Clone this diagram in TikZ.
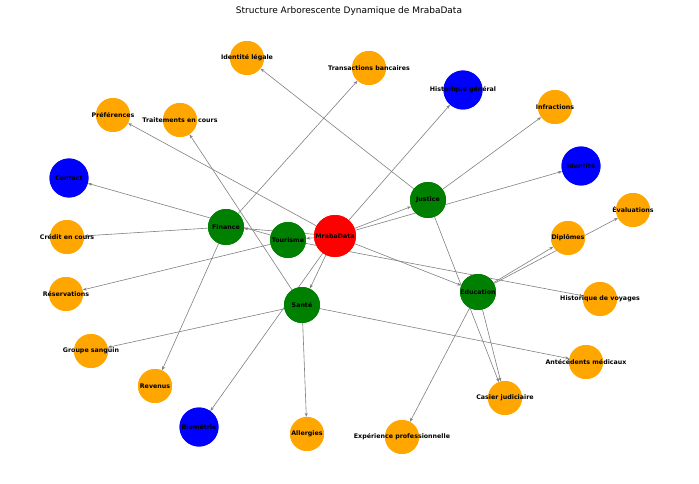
\documentclass[tikz,border=0pt]{standalone}
\usepackage{fontspec}
\setmainfont{DejaVu Sans}
\usetikzlibrary{arrows.meta}
\begin{document}
\begin{tikzpicture}[x=1pt,y=-1pt,
 n/.style={circle,inner sep=0pt,text=black,font=\fontsize{6.3}{7}\selectfont\bfseries},
 root/.style={n,fill=red,minimum size=42pt},
 cat/.style={n,fill=green!50!black,minimum size=36pt},
 leaf/.style={n,fill=orange!70!yellow,minimum size=34pt},
 sens/.style={n,fill=blue,minimum size=39pt},
 e/.style={draw=gray,line width=0.6pt,-{Stealth[length=4pt,width=3pt]}}]
\useasboundingbox (0,0) rectangle (699,484);
\node[font=\fontsize{9}{11}\selectfont] at (349,11) {Structure Arborescente Dynamique de MrabaData};
% edges drawn first as coordinates after nodes
\node[root] (m) at (335,236) {};
\node[cat] (tou) at (288,240) {};
\node[cat] (fin) at (226,227) {};
\node[cat] (san) at (302,305) {};
\node[cat] (jus) at (428,200) {};
\node[cat] (edu) at (478,292) {};
\node[leaf] (il) at (247,58) {};
\node[leaf] (tb) at (369,68) {};
\node[leaf] (pre) at (113,115) {};
\node[leaf] (tec) at (180,120) {};
\node[leaf] (inf) at (555,107) {};
\node[leaf] (cre) at (67,237) {};
\node[leaf] (res) at (66,294) {};
\node[leaf] (dip) at (568,238) {};
\node[leaf] (eva) at (633,210) {};
\node[leaf] (hv) at (600,299) {};
\node[leaf] (gs) at (91,351) {};
\node[leaf] (am) at (586,362) {};
\node[leaf] (rev) at (155,386) {};
\node[leaf] (cj) at (505,398) {};
\node[leaf] (all) at (307,434) {};
\node[leaf] (exp) at (402,437) {};
\node[sens] (hg) at (463,90) {};
\node[sens] (id) at (581,166) {};
\node[sens] (con) at (69,178) {};
\node[sens] (bio) at (199,427) {};
\begin{scope}[on background layer/.style={}]
\foreach \a/\b in {m/tou,m/fin,m/san,m/jus,m/edu,m/hg,m/id,m/bio,m/pre,
 fin/tb,fin/cre,fin/rev,tou/res,tou/hv,tou/con,
 san/gs,san/am,san/all,san/tec,
 jus/il,jus/inf,jus/cj,
 edu/dip,edu/eva,edu/exp,edu/cj}
 \draw[e] (\a) -- (\b);
\end{scope}
% redraw nodes on top
\foreach \nm/\st/\x/\y/\t in {m/root/335/236/MrabaData,tou/cat/288/240/Tourisme,fin/cat/226/227/Finance,san/cat/302/305/Santé,jus/cat/428/200/Justice,edu/cat/478/292/Education,
 il/leaf/247/58/Identité légale,tb/leaf/369/68/Transactions bancaires,pre/leaf/113/115/Préférences,tec/leaf/180/120/Traitements en cours,inf/leaf/555/107/Infractions,cre/leaf/67/237/Crédit en cours,res/leaf/66/294/Réservations,dip/leaf/568/238/Diplômes,eva/leaf/633/210/Évaluations,hv/leaf/600/299/Historique de voyages,gs/leaf/91/351/Groupe sanguin,am/leaf/586/362/Antécédents médicaux,rev/leaf/155/386/Revenus,cj/leaf/505/398/Casier judiciaire,all/leaf/307/434/Allergies,exp/leaf/402/437/Expérience professionnelle,
 hg/sens/463/90/Historique général,id/sens/581/166/Identité,con/sens/69/178/Contact,bio/sens/199/427/Biométrie}
 \node[\st] (\nm l) at (\x,\y) {};
\foreach \nm/\x/\y/\t in {m/335/236/MrabaData,tou/288/240/Tourisme,fin/226/227/Finance,san/302/305/Santé,jus/428/200/Justice,edu/478/292/Education,
 il/247/58/Identité légale,tb/369/68/Transactions bancaires,pre/113/115/Préférences,tec/180/120/Traitements en cours,inf/555/107/Infractions,cre/67/237/Crédit en cours,res/66/294/Réservations,dip/568/238/Diplômes,eva/633/210/Évaluations,hv/600/299/Historique de voyages,gs/91/351/Groupe sanguin,am/586/362/Antécédents médicaux,rev/155/386/Revenus,cj/505/398/Casier judiciaire,all/307/434/Allergies,exp/402/437/Expérience professionnelle,
 hg/463/90/Historique général,id/581/166/Identité,con/69/178/Contact,bio/199/427/Biométrie}
 \node[font=\fontsize{6.3}{7}\selectfont\bfseries] (\nm t) at (\x,\y) {\t};
\end{tikzpicture}
\end{document}
